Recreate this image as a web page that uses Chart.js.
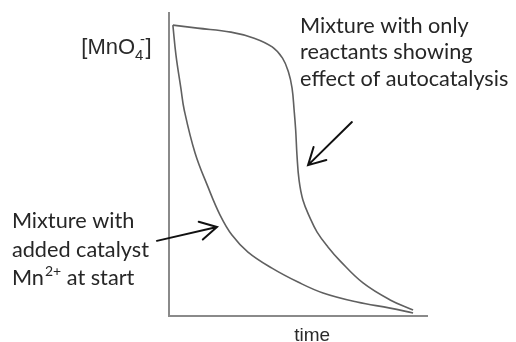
<!DOCTYPE html>
<html>
<head>
<meta charset="utf-8">
<script src="https://cdn.jsdelivr.net/npm/chart.js@4"></script>
<style>
  html, body { margin: 0; padding: 0; background: #fff; }
  #wrap { width: 516px; height: 342px; }
</style>
</head>
<body>
<div id="wrap"><canvas id="rateChart"></canvas></div>
<script>
// reaction without catalyst: slow start, then autocatalytic drop
const autoTime = [1.5, 11, 24, 33, 40, 44, 46.3, 47.7, 48.5, 49.1, 49.6, 50.4, 51.9, 54.7, 57.4, 61.6, 66.3, 75.2, 85.7, 94.6];
const autoConc = [96, 95, 93.7, 91.7, 88.8, 85.1, 80.5, 75.2, 67.9, 61.4, 53.1, 44.9, 38.3, 32.3, 27.7, 22.8, 18.2, 10.9, 5.3, 2.0];

// reaction with Mn2+ added at the start
const catTime = [1.5, 2.7, 4.6, 5.9, 10.1, 15.1, 19.8, 24.4, 30.6, 39.9, 50.0, 59.7, 72.9, 85.7, 94.6];
const catConc = [96, 86.1, 75.2, 68.0, 53.8, 42.6, 33.3, 26.7, 21.1, 15.8, 11.2, 7.6, 4.6, 2.6, 1.0];

const rightNote = ['Mixture with only', 'reactants showing', 'effect of autocatalysis'];
const leftNote = ['Mixture with', 'added catalyst'];
const xTitle = 'time';

const toPoints = (xs, ys) => xs.map((x, i) => ({ x: x, y: ys[i] }));

const curveStyle = {
  borderColor: '#606060',
  borderWidth: 1.6,
  pointRadius: 0,
  fill: false,
  tension: 0.4
};

function arrow(ctx, x0, y0, x1, y1) {
  const ang = Math.atan2(y1 - y0, x1 - x0);
  const len = 19, spread = 0.5;
  ctx.beginPath();
  ctx.moveTo(x0, y0);
  ctx.lineTo(x1, y1);
  ctx.moveTo(x1 - len * Math.cos(ang - spread), y1 - len * Math.sin(ang - spread));
  ctx.lineTo(x1, y1);
  ctx.lineTo(x1 - len * Math.cos(ang + spread), y1 - len * Math.sin(ang + spread));
  ctx.stroke();
}

const notesPlugin = {
  id: 'notes',
  afterDraw(chart) {
    const { ctx, scales: { x, y } } = chart;
    const px = v => x.getPixelForValue(v);
    const py = v => y.getPixelForValue(v);
    const noteFont = '21.7px Lato, "Open Sans", sans-serif';
    ctx.save();
    ctx.textBaseline = 'alphabetic';
    ctx.textAlign = 'left';

    // y axis label [MnO4-]
    ctx.fillStyle = '#2a2a2a';
    ctx.font = '22px "Liberation Sans", Arial, sans-serif';
    let lx = px(-34), ly = py(86.5);
    ctx.fillText('[MnO', lx, ly);
    lx += ctx.measureText('[MnO').width;
    ctx.font = '15px "Liberation Sans", Arial, sans-serif';
    ctx.fillText('4', lx, ly + 6);
    ctx.fillText('-', lx + 5, ly - 10);
    lx += ctx.measureText('4').width + 2;
    ctx.font = '22px "Liberation Sans", Arial, sans-serif';
    ctx.fillText(']', lx, ly);

    // x axis label
    ctx.font = '19px "Liberation Sans", Arial, sans-serif';
    ctx.fillText(xTitle, px(48.5), py(-8.2));

    // notes
    ctx.fillStyle = '#262626';
    ctx.font = noteFont;
    rightNote.forEach((t, i) => ctx.fillText(t, px(50.8), py(93.4) + i * 26.5));
    leftNote.forEach((t, i) => ctx.fillText(t, px(-60.9), py(29.0) + i * 28.5));
    let mx = px(-60.9), my = py(29.0) + 2 * 28.5;
    ctx.fillText('Mn', mx, my);
    mx += ctx.measureText('Mn').width + 1;
    ctx.font = '14px Lato, "Open Sans", sans-serif';
    ctx.fillText('2+', mx, my - 9);
    mx += ctx.measureText('2+').width;
    ctx.font = noteFont;
    ctx.fillText(' at start', mx, my);

    // arrows pointing at the curves
    ctx.strokeStyle = '#111';
    ctx.lineWidth = 2;
    ctx.lineCap = 'round';
    arrow(ctx, px(70.9), py(64.0), px(53.9), py(49.8));
    arrow(ctx, px(-4.7), py(24.8), px(18.6), py(29.4));
    ctx.restore();
  }
};

const chart = new Chart(document.getElementById('rateChart'), {
  type: 'line',
  data: {
    datasets: [
      Object.assign({ label: 'only reactants', data: toPoints(autoTime, autoConc) }, curveStyle),
      Object.assign({ label: 'added catalyst', data: toPoints(catTime, catConc) }, curveStyle)
    ]
  },
  options: {
    responsive: true,
    maintainAspectRatio: false,
    animation: false,
    layout: { padding: { left: 169, right: 89, top: 13, bottom: 26 } },
    plugins: {
      legend: { display: false },
      tooltip: { enabled: false }
    },
    scales: {
      x: {
        type: 'linear',
        min: 0,
        max: 100,
        ticks: { display: false },
        grid: { display: false, drawTicks: false },
        border: { display: true, color: '#8a8a8a', width: 2 }
      },
      y: {
        min: 0,
        max: 100,
        ticks: { display: false },
        grid: { display: false, drawTicks: false },
        border: { display: true, color: '#8a8a8a', width: 2 }
      }
    }
  },
  plugins: [notesPlugin]
});
</script>
</body>
</html>
